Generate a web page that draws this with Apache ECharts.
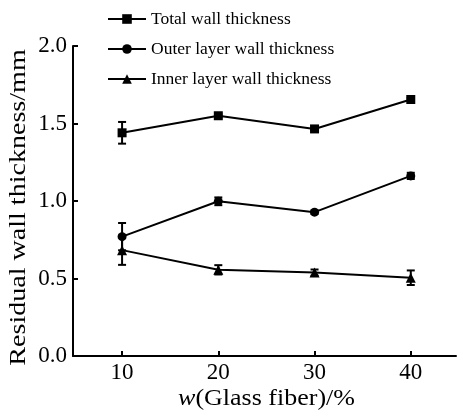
<!DOCTYPE html>
<html>
<head>
<meta charset="utf-8">
<script src="https://cdn.jsdelivr.net/npm/echarts@6/dist/echarts.min.js"></script>
<style>html,body{margin:0;padding:0;background:#fff}#c{width:457px;height:413px}</style>
</head>
<body>
<div id="c"></div>
<script>
var xValues = [10, 20, 30, 40];
var xTicks = [10, 20, 30, 40];
var totalValues = [1.44, 1.55, 1.465, 1.655];
var totalErrors = [0.07, 0.01, 0.008, 0.01];
var outerValues = [0.77, 0.998, 0.928, 1.162];
var outerErrors = [0.088, 0.025, 0.012, 0.02];
var innerValues = [0.683, 0.556, 0.538, 0.505];
var innerErrors = [0.095, 0.03, 0.02, 0.047];
var seriesNames = ['Total wall thickness', 'Outer layer wall thickness', 'Inner layer wall thickness'];
var xTitleItalic = 'w';
var xTitleRest = '(Glass fiber)/%';
var yTitle = 'Residual wall thickness/mm';

var FONT = 'Liberation Serif';

function pairs(vals) { return xValues.map(function (x, i) { return [x, vals[i]]; }); }
function errData(vals, errs) { return xValues.map(function (x, i) { return [x, vals[i] - errs[i], vals[i] + errs[i]]; }); }

function errSeries(vals, errs) {
  return {
    type: 'custom',
    silent: true,
    z: 1,
    data: errData(vals, errs),
    renderItem: function (params, api) {
      var lo = api.coord([api.value(0), api.value(1)]);
      var hi = api.coord([api.value(0), api.value(2)]);
      var w = 4;
      var st = { stroke: '#000', lineWidth: 2 };
      return {
        type: 'group',
        children: [
          { type: 'line', shape: { x1: lo[0], y1: lo[1], x2: hi[0], y2: hi[1] }, style: st },
          { type: 'line', shape: { x1: lo[0] - w, y1: lo[1], x2: lo[0] + w, y2: lo[1] }, style: st },
          { type: 'line', shape: { x1: hi[0] - w, y1: hi[1], x2: hi[0] + w, y2: hi[1] }, style: st }
        ]
      };
    }
  };
}

function lineSeries(name, vals, symbol, size) {
  return {
    name: name,
    type: 'line',
    data: pairs(vals),
    symbol: symbol,
    symbolSize: size,
    showAllSymbol: true,
    z: 2,
    lineStyle: { color: '#000', width: 2 },
    itemStyle: { color: '#000', borderWidth: 0 },
    emphasis: { disabled: true }
  };
}

var chart = echarts.init(document.getElementById('c'), null, { renderer: 'canvas' });
chart.setOption({
  animation: false,
  backgroundColor: '#fff',
  textStyle: { fontFamily: FONT, color: '#000' },
  legend: {
    orient: 'vertical',
    left: 102,
    top: 5,
    itemWidth: 38,
    itemHeight: 12,
    itemGap: 12,
    textStyle: { fontFamily: FONT, fontSize: 17.5, color: '#000', lineHeight: 18 },
    data: seriesNames
  },
  grid: { left: 73, right: 1, top: 46, bottom: 57, containLabel: false, outerBoundsMode: 'none' },
  xAxis: {
    type: 'value',
    min: 4.9,
    max: 44.7,
    axisLine: { lineStyle: { color: '#000', width: 2 } },
    axisTick: { inside: true, length: 5, lineStyle: { color: '#000', width: 2 }, customValues: xTicks },
    axisLabel: { fontFamily: FONT, fontSize: 23, color: '#000', margin: 5, customValues: xTicks },
    splitLine: { show: false }
  },
  yAxis: {
    type: 'value',
    min: 0,
    max: 2,
    interval: 0.5,
    axisLine: { show: true, lineStyle: { color: '#000', width: 2 } },
    axisTick: { show: true, inside: true, length: 5, lineStyle: { color: '#000', width: 2 } },
    axisLabel: {
      fontFamily: FONT, fontSize: 23, color: '#000', margin: 6,
      formatter: function (v) { return v.toFixed(1); }
    },
    splitLine: { show: false }
  },
  graphic: [
    {
      type: 'text',
      x: 266.5,
      y: 399,
      scaleX: 1.13,
      silent: true,
      style: {
        text: '{i|' + xTitleItalic + '}' + xTitleRest,
        fontFamily: FONT,
        fontSize: 23,
        fill: '#000',
        align: 'center',
        verticalAlign: 'middle',
        rich: { i: { fontFamily: FONT, fontSize: 23, fontStyle: 'italic', fill: '#000' } }
      }
    },
    {
      type: 'text',
      x: 19,
      y: 207.5,
      rotation: Math.PI / 2,
      scaleX: 1.22,
      silent: true,
      style: {
        text: yTitle,
        fontFamily: FONT,
        fontSize: 23,
        fill: '#000',
        align: 'center',
        verticalAlign: 'middle'
      }
    }
  ],
  series: [
    errSeries(totalValues, totalErrors),
    errSeries(outerValues, outerErrors),
    errSeries(innerValues, innerErrors),
    lineSeries(seriesNames[0], totalValues, 'rect', 9),
    lineSeries(seriesNames[1], outerValues, 'circle', 9),
    lineSeries(seriesNames[2], innerValues, 'triangle', 10)
  ]
});
</script>
</body>
</html>
